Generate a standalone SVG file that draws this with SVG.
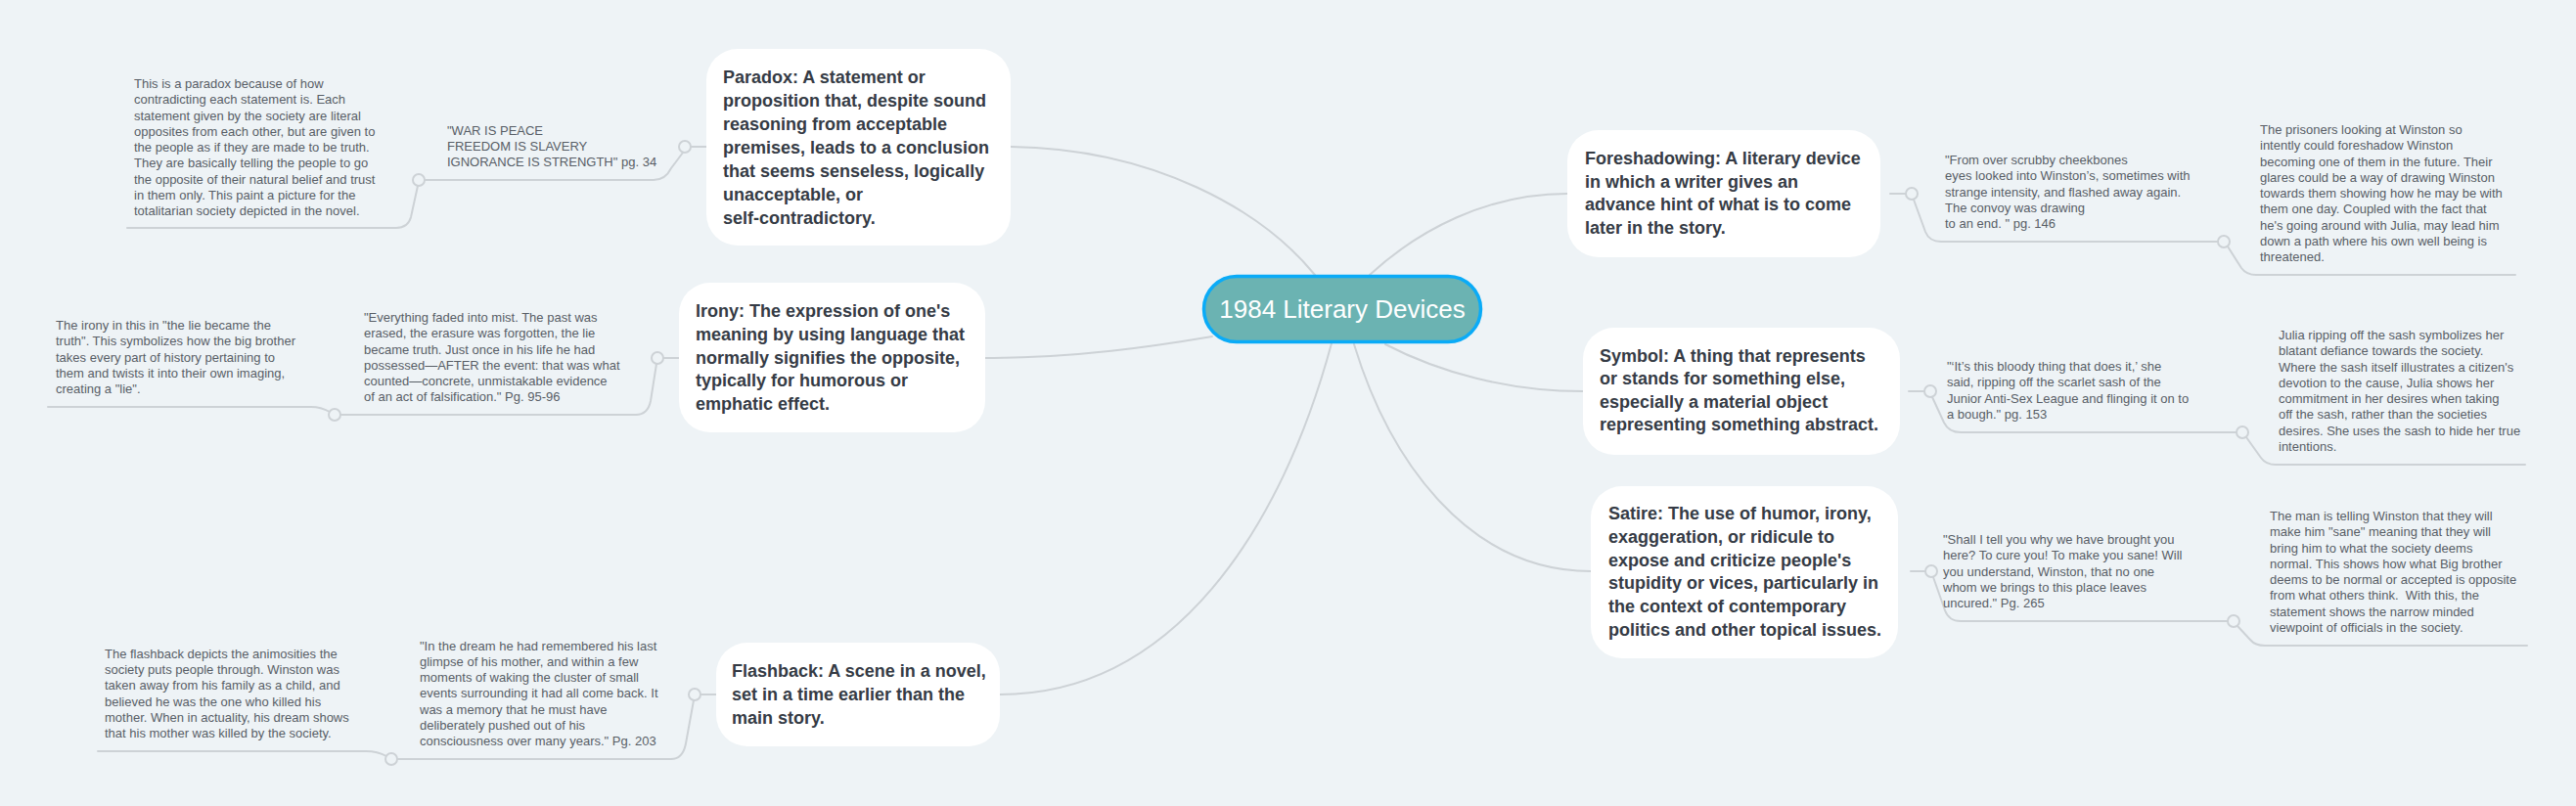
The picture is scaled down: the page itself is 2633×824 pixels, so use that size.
<svg xmlns="http://www.w3.org/2000/svg" width="2633" height="824" viewBox="0 0 2633 824">
<style>
.bg{fill:#EEF3F6}
.box{fill:#FFFFFF}
.t{font-family:"Liberation Sans",Arial,sans-serif;font-size:18px;font-weight:bold;fill:#353B45}
.s{font-family:"Liberation Sans",Arial,sans-serif;font-size:13px;fill:#585E66}
.c{fill:none;stroke:#CDD2D6;stroke-width:2;stroke-linecap:round}
.k{fill:#EEF3F6;stroke:#CDD2D6;stroke-width:2}
.root{fill:#6BB3B2;stroke:#0AABF7;stroke-width:3.5}
.rt{font-family:"Liberation Sans",Arial,sans-serif;font-size:26px;fill:#FFFFFF}
</style>
<rect class="bg" x="0" y="0" width="2633" height="824"/>

<g id="connectors">
  <!-- main branches -->
  <path class="c" d="M1033 150 C1180 152 1290 215 1344 281"/>
  <path class="c" d="M1007 366 C1100 366 1180 354 1239 344"/>
  <path class="c" d="M1022 710 C1200 710 1310 540 1361 351"/>
  <path class="c" d="M1400 281 C1450 235 1520 198 1602 198"/>
  <path class="c" d="M1416 352 C1470 380 1540 400 1618 400"/>
  <path class="c" d="M1384 352 C1420 470 1500 584 1626 584"/>

  <!-- Paradox -->
  <path class="c" d="M706 150 H722"/>
  <path class="c" d="M698 156 L686 172 Q680 184 668 184 H434"/>
  <path class="c" d="M427 190 L420 222 Q417 233 405 233 H130"/>
  <!-- Irony -->
  <path class="c" d="M678 366 H694"/>
  <path class="c" d="M671 372 L665 410 Q662 424 650 424 H348"/>
  <path class="c" d="M337 421 Q328 416 318 416 H49"/>
  <!-- Flashback -->
  <path class="c" d="M716 710 H732"/>
  <path class="c" d="M709 716 L701 760 Q698 776 686 776 H406"/>
  <path class="c" d="M395 773 Q386 768 374 768 H100"/>
  <!-- Foreshadowing -->
  <path class="c" d="M1932 198 H1948"/>
  <path class="c" d="M1956 204 L1968 237 Q1972 247 1984 247 H2267"/>
  <path class="c" d="M2277 252 L2291 274 Q2296 281 2306 281 H2571"/>
  <!-- Symbol -->
  <path class="c" d="M1951 400 H1967"/>
  <path class="c" d="M1975 406 L1987 432 Q1992 442 2004 442 H2286"/>
  <path class="c" d="M2296 447 L2311 468 Q2316 475 2326 475 H2581"/>
  <!-- Satire -->
  <path class="c" d="M1953 584 H1968"/>
  <path class="c" d="M1976 590 L1988 624 Q1992 635 2004 635 H2277"/>
  <path class="c" d="M2287 640 L2300 654 Q2305 660 2315 660 H2583"/>

  <circle class="k" cx="700" cy="150" r="6"/>
  <circle class="k" cx="428" cy="184" r="6"/>
  <circle class="k" cx="672" cy="366" r="6"/>
  <circle class="k" cx="342" cy="424" r="6"/>
  <circle class="k" cx="710" cy="710" r="6"/>
  <circle class="k" cx="400" cy="776" r="6"/>
  <circle class="k" cx="1954" cy="198" r="6"/>
  <circle class="k" cx="2273" cy="247" r="6"/>
  <circle class="k" cx="1973" cy="400" r="6"/>
  <circle class="k" cx="2292" cy="442" r="6"/>
  <circle class="k" cx="1974" cy="584" r="6"/>
  <circle class="k" cx="2283" cy="635" r="6"/>
</g>

<g id="root">
  <rect class="root" x="1230.5" y="282.5" width="283" height="67" rx="33.5"/>
  <text class="rt" x="1372" y="325" text-anchor="middle">1984 Literary Devices</text>
</g>

<g id="paradox">
  <rect class="box" x="722" y="50" width="311" height="201" rx="32"/>
  <text class="t" x="739" y="85">Paradox: A statement or</text>
  <text class="t" x="739" y="109">proposition that, despite sound</text>
  <text class="t" x="739" y="133">reasoning from acceptable</text>
  <text class="t" x="739" y="157">premises, leads to a conclusion</text>
  <text class="t" x="739" y="181">that seems senseless, logically</text>
  <text class="t" x="739" y="205">unacceptable, or</text>
  <text class="t" x="739" y="229">self-contradictory.</text>
</g>
<g id="paradox-quote">
  <text class="s" x="457" y="138">"WAR IS PEACE</text>
  <text class="s" x="457" y="154">FREEDOM IS SLAVERY</text>
  <text class="s" x="457" y="170">IGNORANCE IS STRENGTH" pg. 34</text>
</g>
<g id="paradox-note">
  <text class="s" x="137" y="90">This is a paradox because of how</text>
  <text class="s" x="137" y="106.25">contradicting each statement is. Each</text>
  <text class="s" x="137" y="122.5">statement given by the society are literal</text>
  <text class="s" x="137" y="138.75">opposites from each other, but are given to</text>
  <text class="s" x="137" y="155">the people as if they are made to be truth.</text>
  <text class="s" x="137" y="171.25">They are basically telling the people to go</text>
  <text class="s" x="137" y="187.5">the opposite of their natural belief and trust</text>
  <text class="s" x="137" y="203.75">in them only. This paint a picture for the</text>
  <text class="s" x="137" y="220">totalitarian society depicted in the novel.</text>
</g>

<g id="irony">
  <rect class="box" x="694" y="289" width="313" height="153" rx="32"/>
  <text class="t" x="711" y="324">Irony: The expression of one's</text>
  <text class="t" x="711" y="348">meaning by using language that</text>
  <text class="t" x="711" y="372">normally signifies the opposite,</text>
  <text class="t" x="711" y="395">typically for humorous or</text>
  <text class="t" x="711" y="419">emphatic effect.</text>
</g>
<g id="irony-quote">
  <text class="s" x="372" y="329">"Everything faded into mist. The past was</text>
  <text class="s" x="372" y="345.25">erased, the erasure was forgotten, the lie</text>
  <text class="s" x="372" y="361.5">became truth. Just once in his life he had</text>
  <text class="s" x="372" y="377.75">possessed—AFTER the event: that was what</text>
  <text class="s" x="372" y="394">counted—concrete, unmistakable evidence</text>
  <text class="s" x="372" y="410.25">of an act of falsification." Pg. 95-96</text>
</g>
<g id="irony-note">
  <text class="s" x="57" y="337">The irony in this in "the lie became the</text>
  <text class="s" x="57" y="353.25">truth". This symbolizes how the big brother</text>
  <text class="s" x="57" y="369.5">takes every part of history pertaining to</text>
  <text class="s" x="57" y="385.75">them and twists it into their own imaging,</text>
  <text class="s" x="57" y="402">creating a "lie".</text>
</g>

<g id="flashback">
  <rect class="box" x="732" y="657" width="290" height="106" rx="32"/>
  <text class="t" x="748" y="692">Flashback: A scene in a novel,</text>
  <text class="t" x="748" y="716">set in a time earlier than the</text>
  <text class="t" x="748" y="740">main story.</text>
</g>
<g id="flashback-quote">
  <text class="s" x="429" y="664.5">"In the dream he had remembered his last</text>
  <text class="s" x="429" y="680.75">glimpse of his mother, and within a few</text>
  <text class="s" x="429" y="697">moments of waking the cluster of small</text>
  <text class="s" x="429" y="713.25">events surrounding it had all come back. It</text>
  <text class="s" x="429" y="729.5">was a memory that he must have</text>
  <text class="s" x="429" y="745.75">deliberately pushed out of his</text>
  <text class="s" x="429" y="762">consciousness over many years." Pg. 203</text>
</g>
<g id="flashback-note">
  <text class="s" x="107" y="672.75">The flashback depicts the animosities the</text>
  <text class="s" x="107" y="689">society puts people through. Winston was</text>
  <text class="s" x="107" y="705.25">taken away from his family as a child, and</text>
  <text class="s" x="107" y="721.5">believed he was the one who killed his</text>
  <text class="s" x="107" y="737.75">mother. When in actuality, his dream shows</text>
  <text class="s" x="107" y="754">that his mother was killed by the society.</text>
</g>

<g id="foreshadowing">
  <rect class="box" x="1602" y="133" width="320" height="130" rx="32"/>
  <text class="t" x="1620" y="168">Foreshadowing: A literary device</text>
  <text class="t" x="1620" y="192">in which a writer gives an</text>
  <text class="t" x="1620" y="215">advance hint of what is to come</text>
  <text class="t" x="1620" y="239">later in the story.</text>
</g>
<g id="foreshadowing-quote">
  <text class="s" x="1988" y="168">"From over scrubby cheekbones</text>
  <text class="s" x="1988" y="184.25">eyes looked into Winston’s, sometimes with</text>
  <text class="s" x="1988" y="200.5">strange intensity, and flashed away again.</text>
  <text class="s" x="1988" y="216.75">The convoy was drawing</text>
  <text class="s" x="1988" y="233">to an end. " pg. 146</text>
</g>
<g id="foreshadowing-note">
  <text class="s" x="2310" y="137">The prisoners looking at Winston so</text>
  <text class="s" x="2310" y="153.25">intently could foreshadow Winston</text>
  <text class="s" x="2310" y="169.5">becoming one of them in the future. Their</text>
  <text class="s" x="2310" y="185.75">glares could be a way of drawing Winston</text>
  <text class="s" x="2310" y="202">towards them showing how he may be with</text>
  <text class="s" x="2310" y="218.25">them one day. Coupled with the fact that</text>
  <text class="s" x="2310" y="234.5">he's going around with Julia, may lead him</text>
  <text class="s" x="2310" y="250.75">down a path where his own well being is</text>
  <text class="s" x="2310" y="267">threatened.</text>
</g>

<g id="symbol">
  <rect class="box" x="1618" y="335" width="324" height="130" rx="32"/>
  <text class="t" x="1635" y="370">Symbol: A thing that represents</text>
  <text class="t" x="1635" y="393">or stands for something else,</text>
  <text class="t" x="1635" y="417">especially a material object</text>
  <text class="t" x="1635" y="440">representing something abstract.</text>
</g>
<g id="symbol-quote">
  <text class="s" x="1990" y="379">"‘It’s this bloody thing that does it,’ she</text>
  <text class="s" x="1990" y="395.25">said, ripping off the scarlet sash of the</text>
  <text class="s" x="1990" y="411.5">Junior Anti-Sex League and flinging it on to</text>
  <text class="s" x="1990" y="427.75">a bough." pg. 153</text>
</g>
<g id="symbol-note">
  <text class="s" x="2329" y="347">Julia ripping off the sash symbolizes her</text>
  <text class="s" x="2329" y="363.25">blatant defiance towards the society.</text>
  <text class="s" x="2329" y="379.5">Where the sash itself illustrates a citizen's</text>
  <text class="s" x="2329" y="395.75">devotion to the cause, Julia shows her</text>
  <text class="s" x="2329" y="412">commitment in her desires when taking</text>
  <text class="s" x="2329" y="428.25">off the sash, rather than the societies</text>
  <text class="s" x="2329" y="444.5">desires. She uses the sash to hide her true</text>
  <text class="s" x="2329" y="460.75">intentions.</text>
</g>

<g id="satire">
  <rect class="box" x="1626" y="497" width="314" height="176" rx="32"/>
  <text class="t" x="1644" y="531">Satire: The use of humor, irony,</text>
  <text class="t" x="1644" y="555">exaggeration, or ridicule to</text>
  <text class="t" x="1644" y="579">expose and criticize people's</text>
  <text class="t" x="1644" y="602">stupidity or vices, particularly in</text>
  <text class="t" x="1644" y="626">the context of contemporary</text>
  <text class="t" x="1644" y="650">politics and other topical issues.</text>
</g>
<g id="satire-quote">
  <text class="s" x="1986" y="556">"Shall I tell you why we have brought you</text>
  <text class="s" x="1986" y="572.25">here? To cure you! To make you sane! Will</text>
  <text class="s" x="1986" y="588.5">you understand, Winston, that no one</text>
  <text class="s" x="1986" y="604.75">whom we brings to this place leaves</text>
  <text class="s" x="1986" y="621">uncured." Pg. 265</text>
</g>
<g id="satire-note">
  <text class="s" x="2320" y="532">The man is telling Winston that they will</text>
  <text class="s" x="2320" y="548.25">make him "sane" meaning that they will</text>
  <text class="s" x="2320" y="564.5">bring him to what the society deems</text>
  <text class="s" x="2320" y="580.75">normal. This shows how what Big brother</text>
  <text class="s" x="2320" y="597">deems to be normal or accepted is opposite</text>
  <text class="s" x="2320" y="613.25" xml:space="preserve">from what others think.  With this, the</text>
  <text class="s" x="2320" y="629.5">statement shows the narrow minded</text>
  <text class="s" x="2320" y="645.75">viewpoint of officials in the society.</text>
</g>
</svg>
